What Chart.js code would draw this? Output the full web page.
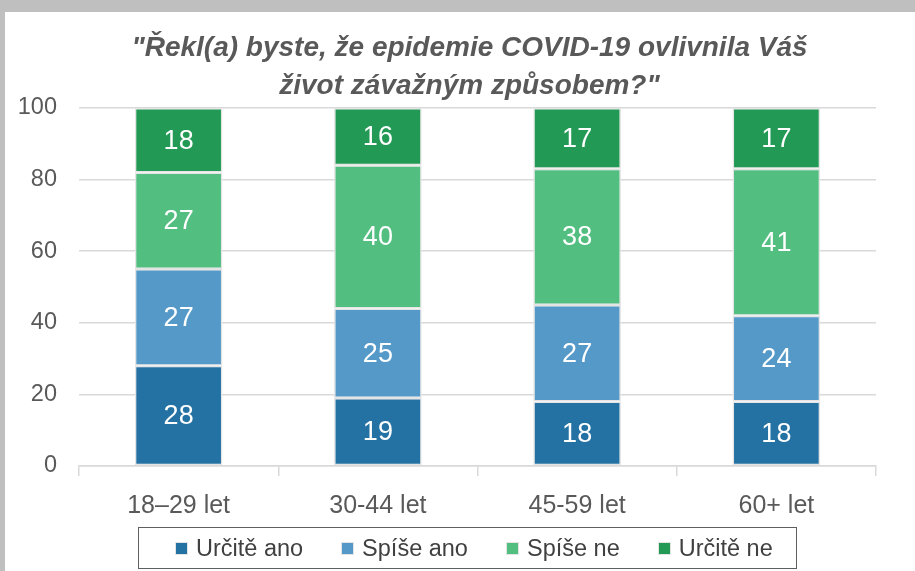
<!DOCTYPE html>
<html lang="cs">
<head>
  <meta charset="UTF-8">
  <title>COVID-19 dopad</title>
  <script src="https://cdn.jsdelivr.net/npm/chart.js"></script>
  <style>
    body {
      margin: 0;
      background: #bfbfbf;
      width: 915px;
      height: 571px;
      overflow: hidden;
      font-family: 'Liberation Sans', Arial, sans-serif;
    }
    .panel {
      position: absolute;
      left: 5px;
      top: 12px;
      width: 910px;
      height: 559px;
      background: #fff;
    }
    canvas {
      position: absolute;
      left: 0;
      top: 0;
    }
    #legend {
      position: absolute;
      left: 133px;
      top: 515px;
      width: 659px;
      height: 42px;
      box-sizing: border-box;
      border: 1.5px solid #5f5f5f;
      display: flex;
      align-items: center;
      padding-left: 36px;
      gap: 38px;
      font-size: 23.5px;
      color: #404040;
    }
    #legend span.item {
      display: flex;
      align-items: center;
      gap: 8px;
      white-space: nowrap;
    }
    #legend span.sw {
      width: 13px;
      height: 13px;
      box-sizing: border-box;
      border: 1px solid #e4e4e4;
    }
  </style>
</head>
<body>
  <div class="panel">
    <canvas id="chart" width="910" height="559"></canvas>
    <div id="legend"></div>
  </div>

  <script>
    const FONT = "'Liberation Sans', Arial, sans-serif";

    const categories = ['18–29 let', '30-44 let', '45-59 let', '60+ let'];
    const urciteAno = [28, 19, 18, 18];
    const spiseAno = [27, 25, 27, 24];
    const spiseNe = [27, 40, 38, 41];
    const urciteNe = [18, 16, 17, 17];
    const yTicks = [0, 20, 40, 60, 80, 100];

    // white numbers in the middle of each segment
    const segmentLabels = {
      id: 'segmentLabels',
      afterDatasetsDraw(chart) {
        const ctx = chart.ctx;
        ctx.save();
        ctx.fillStyle = '#fff';
        ctx.font = '27px ' + FONT;
        ctx.textAlign = 'center';
        ctx.textBaseline = 'middle';
        chart.data.datasets.forEach((ds, i) => {
          chart.getDatasetMeta(i).data.forEach((bar, j) => {
            ctx.fillText(ds.data[j], bar.x, (bar.y + bar.base) / 2 + 1);
          });
        });
        ctx.restore();
      }
    };

    // title sits centred over the whole panel, not only the plot
    const titleShift = {
      id: 'titleShift',
      afterLayout(chart) {
        chart.titleBlock.left += 29;
        chart.titleBlock.right += 29;
      }
    };

    const ds = (label, data, color) => ({
      label: label,
      data: data,
      backgroundColor: color,
      borderColor: '#e4e4e4',
      borderWidth: 1.5,
      borderSkipped: false,
      barPercentage: 1,
      categoryPercentage: 0.44
    });

    const chart = new Chart(document.getElementById('chart'), {
      type: 'bar',
      data: {
        labels: categories,
        datasets: [
          ds('Určitě ano', urciteAno, '#2471a3'),
          ds('Spíše ano', spiseAno, '#5599c8'),
          ds('Spíše ne', spiseNe, '#52be80'),
          ds('Určitě ne', urciteNe, '#229954')
        ]
      },
      options: {
        responsive: false,
        animation: false,
        layout: {
          padding: { left: 0, right: 39, top: 0, bottom: 45 }
        },
        plugins: {
          title: {
            display: true,
            text: ['"Řekl(a) byste, že epidemie COVID-19 ovlivnila Váš', 'život závažným způsobem?"'],
            color: '#595959',
            font: { family: FONT, size: 28, style: 'italic', weight: 'bold', lineHeight: 38 / 28 },
            padding: { top: 17, bottom: 3 }
          },
          legend: { display: false },
          tooltip: { enabled: false }
        },
        scales: {
          x: {
            stacked: true,
            afterFit(axis) {
              axis.height = 60;
            },
            grid: {
              offset: true,
              drawOnChartArea: false,
              color: '#d9d9d9',
              lineWidth: 1.5,
              tickLength: 10
            },
            border: { color: '#d9d9d9', width: 1.5 },
            ticks: {
              color: '#595959',
              font: { family: FONT, size: 25 },
              padding: 15
            }
          },
          y: {
            stacked: true,
            min: 0,
            max: 100,
            afterBuildTicks(axis) {
              axis.ticks = yTicks.map(v => ({ value: v }));
            },
            afterFit(axis) {
              axis.width = 74;
            },
            grid: {
              color: '#d9d9d9',
              lineWidth: 1.5,
              drawTicks: false
            },
            border: { display: false },
            ticks: {
              color: '#595959',
              font: { family: FONT, size: 23.5 },
              padding: 22
            }
          }
        }
      },
      plugins: [segmentLabels, titleShift]
    });

    // legend in a framed box under the chart
    const legend = document.getElementById('legend');
    chart.data.datasets.forEach(d => {
      const item = document.createElement('span');
      item.className = 'item';
      const sw = document.createElement('span');
      sw.className = 'sw';
      sw.style.background = d.backgroundColor;
      item.appendChild(sw);
      item.appendChild(document.createTextNode(d.label));
      legend.appendChild(item);
    });
  </script>
</body>
</html>
